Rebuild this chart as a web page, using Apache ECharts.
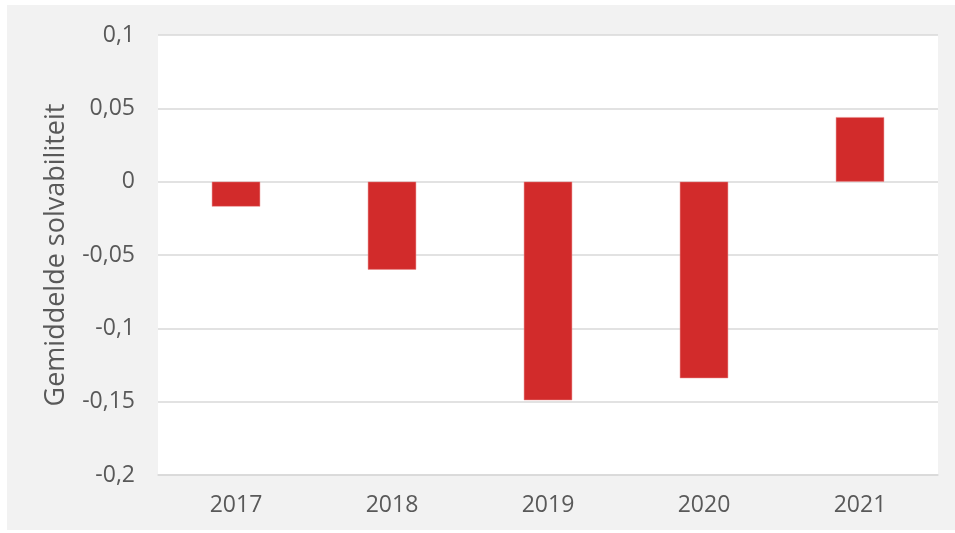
<!DOCTYPE html>
<html><head><meta charset="utf-8">
<script src="https://cdn.jsdelivr.net/npm/echarts@6/dist/echarts.min.js"></script>
<style>html,body{margin:0;padding:0;background:#fff}#c{width:955px;height:533px}</style>
</head><body><div id="c"></div>
<script>
var categories = ['2017', '2018', '2019', '2020', '2021'];
var values = [-0.017, -0.060, -0.149, -0.134, 0.044];
var yMin = -0.2, yMax = 0.1, yStep = 0.05;
var yName = 'Gemiddelde solvabiliteit';

var chart = echarts.init(document.getElementById('c'));
var font = '"Open Sans", Lato, sans-serif';
chart.setOption({
  animation: false,
  backgroundColor: '#ffffff',
  graphic: [{type: 'rect', z: -10, shape: {x: 7, y: 5, width: 948, height: 525}, style: {fill: '#f2f2f2'}}],
  grid: {left: 158, right: 17, top: 35, bottom: 58, show: true, backgroundColor: '#ffffff', borderWidth: 0},
  xAxis: {
    type: 'category', data: categories,
    axisLine: {show: true, onZero: false, lineStyle: {color: '#d9d9d9', width: 1.5}},
    axisTick: {show: false},
    axisLabel: {color: '#595959', fontSize: 23, fontFamily: font, margin: 19}
  },
  yAxis: {
    type: 'value', min: yMin, max: yMax, interval: yStep,
    name: yName, nameLocation: 'middle', nameGap: 88,
    nameTextStyle: {color: '#595959', fontSize: 27, fontFamily: font},
    axisLine: {show: false}, axisTick: {show: false},
    splitLine: {lineStyle: {color: '#d9d9d9', width: 1.5}},
    axisLabel: {color: '#595959', fontSize: 23, fontFamily: font, margin: 23,
      formatter: function (v) { return String(Math.round(v * 1000) / 1000).replace('.', ','); }}
  },
  series: [{
    type: 'bar', data: values, barWidth: '31%',
    itemStyle: {color: '#d22b2b', borderColor: '#e88a8a', borderWidth: 0.5}
  }]
});
</script></body></html>
